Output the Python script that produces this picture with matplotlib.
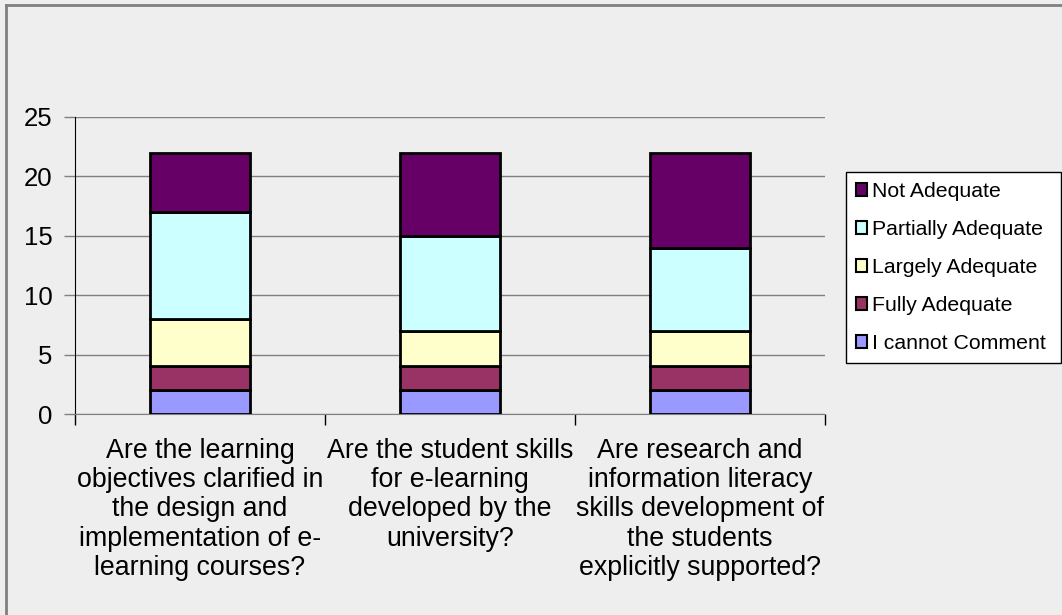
import matplotlib
matplotlib.use("Agg")
import matplotlib.pyplot as plt
from matplotlib.lines import Line2D
import numpy as np

categories = [
    "Are the learning\nobjectives clarified in\nthe design and\nimplementation of e-\nlearning courses?",
    "Are the student skills\nfor e-learning\ndeveloped by the\nuniversity?",
    "Are research and\ninformation literacy\nskills development of\nthe students\nexplicitly supported?",
]
series_names = ["I cannot Comment", "Fully Adequate", "Largely Adequate",
                "Partially Adequate", "Not Adequate"]
i_cannot_comment = [2, 2, 2]
fully_adequate = [2, 2, 2]
largely_adequate = [4, 3, 3]
partially_adequate = [9, 8, 7]
not_adequate = [5, 7, 8]
colors = ["#9999FF", "#993366", "#FFFFCC", "#CCFFFF", "#660066"]
yticks = [0, 5, 10, 15, 20, 25]

plt.rcParams['font.family'] = ['Liberation Sans', 'DejaVu Sans']
bg = "#EEEEEE"
fig = plt.figure(figsize=(10.62, 6.15), dpi=100, facecolor=bg)
W, H = 1062, 615
ax = fig.add_axes([75 / W, (H - 414) / H, 750 / W, 297 / H])
ax.set_facecolor(bg)

x = np.arange(len(categories))
bottom = np.zeros(len(categories))
handles = []
for name, vals, c in zip(series_names,
                         [i_cannot_comment, fully_adequate, largely_adequate,
                          partially_adequate, not_adequate], colors):
    b = ax.bar(x, vals, width=0.4, bottom=bottom, color=c, edgecolor="black",
               linewidth=2, label=name, zorder=3)
    handles.append(b)
    bottom += np.array(vals)

ax.set_xlim(-0.5, 2.5)
ax.set_ylim(0, 25)
ax.set_yticks(yticks)
ax.yaxis.grid(True, color="#808080", linewidth=1, zorder=0)
ax.set_axisbelow(True)
for s in ["top", "right"]:
    ax.spines[s].set_visible(False)
ax.spines["left"].set_color("black")
ax.spines["left"].set_bounds(0, 25)
ax.spines["bottom"].set_color("#808080")
ax.tick_params(axis="y", length=8, width=1, color="#808080", labelsize=18.5, pad=8)
ax.set_xticks(x)
ax.set_xticklabels(categories, fontsize=19.3, linespacing=1.17)
ax.tick_params(axis="x", which="major", length=0, pad=17)
ax.set_xticks([-0.5, 0.5, 1.5, 2.5], minor=True)
ax.tick_params(axis="x", which="minor", length=8, width=1, color="black")

leg_top = (H - 172) / H
leg_h = (362 - 172) / H
leg = ax.legend(handles=handles[::-1], labels=series_names[::-1],
                loc="upper left", mode="expand",
                bbox_to_anchor=(846 / W, leg_top - leg_h, (1061 - 846) / W, leg_h),
                bbox_transform=fig.transFigure, fontsize=15.3, frameon=True,
                fancybox=False, edgecolor="black", facecolor="white",
                framealpha=1, handlelength=0.56, handleheight=0.56,
                handletextpad=0.2, labelspacing=0.9, borderpad=0.45,
                borderaxespad=0)
leg.get_frame().set_linewidth(1)
for h in leg.legend_handles:
    h.set_linewidth(1.5)

# figure border (left and top)
fig.add_artist(Line2D([6 / W, 6 / W], [0, (H - 5) / H], color="#808080",
                      linewidth=2, transform=fig.transFigure))
fig.add_artist(Line2D([6 / W, 1], [(H - 5) / H, (H - 5) / H], color="#808080",
                      linewidth=2, transform=fig.transFigure))

fig.savefig("out.png", dpi=100, facecolor=bg)
